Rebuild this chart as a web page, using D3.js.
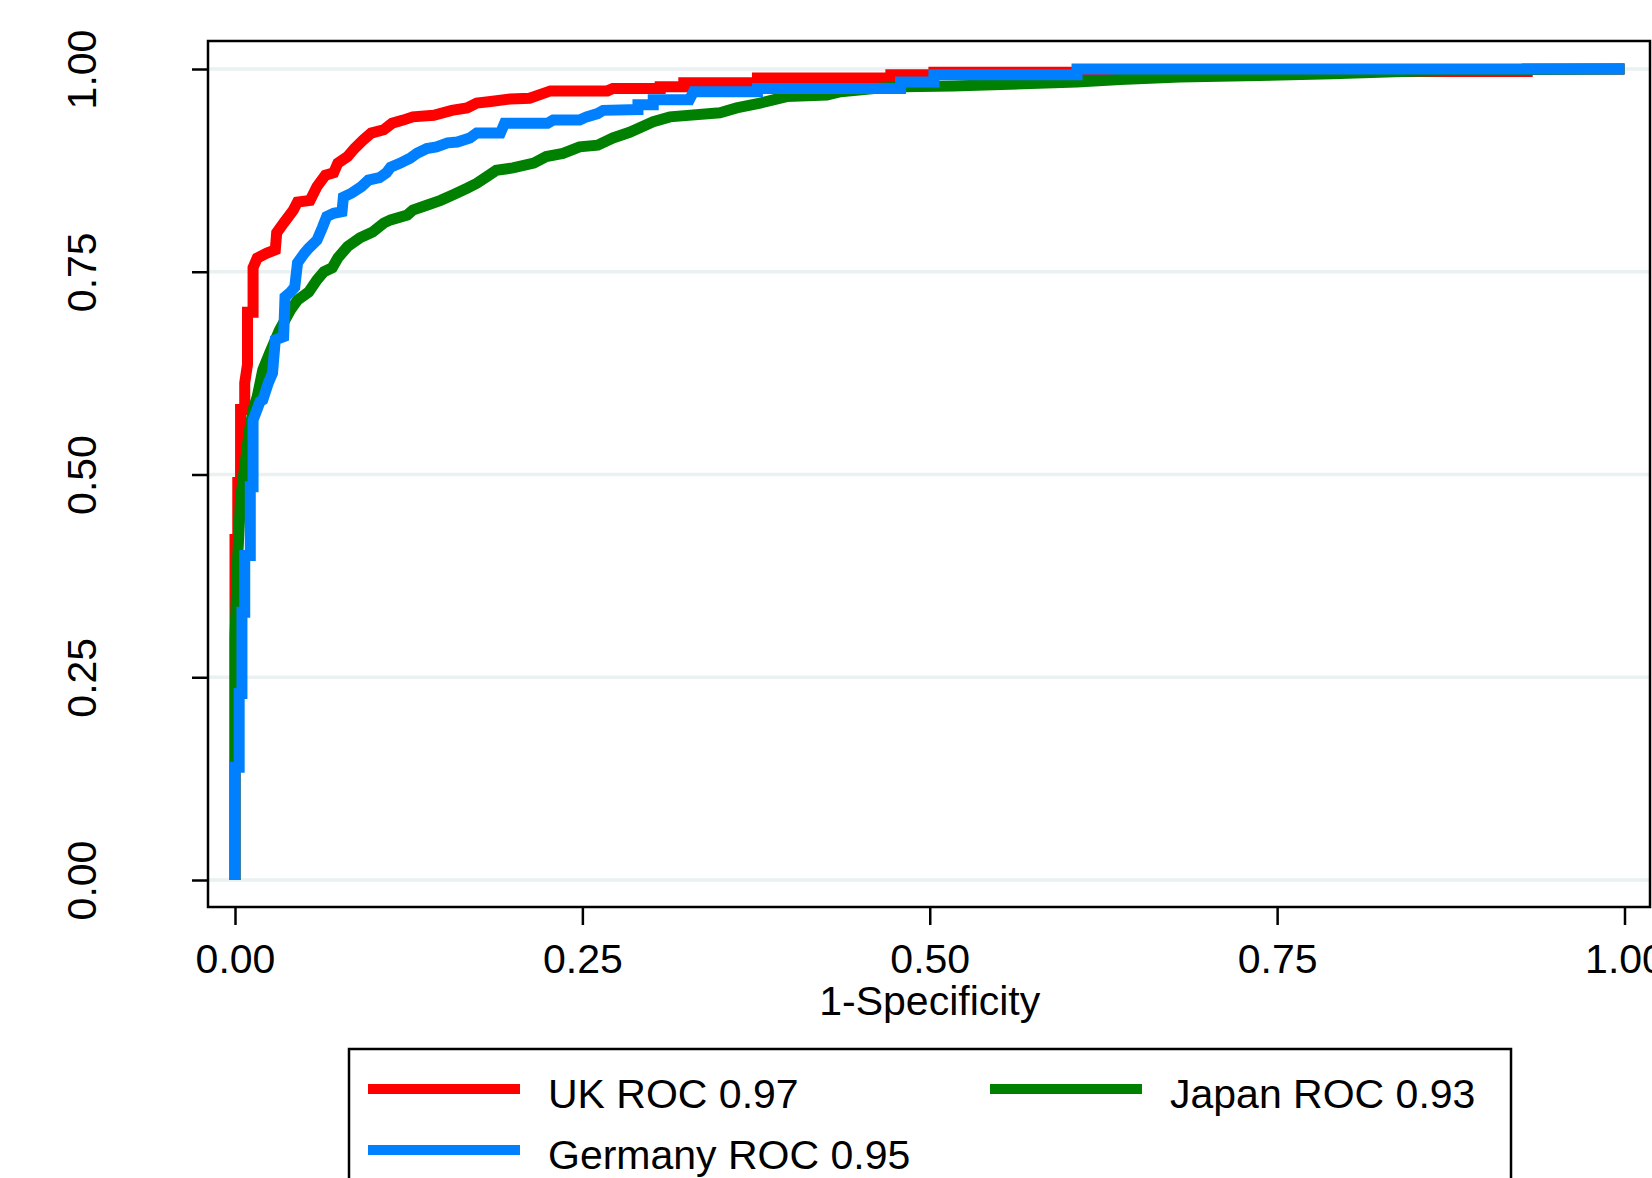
<!DOCTYPE html>
<html>
<head>
<meta charset="utf-8">
<script src="https://cdn.jsdelivr.net/npm/d3@7"></script>
<style>
  body { margin: 0; background: #fff; }
  text { font-family: "Liberation Sans", Arial, Helvetica, sans-serif; fill: #000; }
</style>
</head>
<body>
<script>
// ROC points: [1-specificity, sensitivity]
const ukRoc = [
  [0,0],[0,0.42],[0.002,0.42],[0.002,0.49],[0.004,0.49],[0.004,0.58],[0.007,0.58],[0.007,0.613],
  [0.009,0.636],[0.009,0.70],[0.013,0.70],[0.013,0.755],[0.016,0.767],[0.023,0.773],[0.029,0.777],
  [0.030,0.798],[0.035,0.810],[0.042,0.826],[0.045,0.836],[0.054,0.838],[0.059,0.855],[0.065,0.869],
  [0.071,0.872],[0.074,0.884],[0.081,0.892],[0.086,0.902],[0.092,0.912],[0.098,0.921],[0.107,0.925],
  [0.113,0.933],[0.121,0.937],[0.128,0.941],[0.143,0.943],[0.156,0.949],[0.167,0.952],[0.174,0.958],
  [0.184,0.960],[0.198,0.963],[0.212,0.964],[0.222,0.970],[0.227,0.973],[0.268,0.973],[0.272,0.976],
  [0.306,0.976],[0.306,0.978],[0.323,0.978],[0.323,0.983],[0.376,0.983],[0.376,0.989],[0.472,0.989],
  [0.472,0.993],[0.503,0.993],[0.503,0.996],[0.79,0.996],[0.79,0.997],[0.93,0.997],[0.93,1],[1,1]
];
const japanRoc = [
  [0,0],[0,0.30],[0.002,0.40],[0.004,0.47],[0.007,0.51],[0.010,0.55],[0.013,0.58],[0.016,0.596],
  [0.020,0.629],[0.025,0.650],[0.032,0.678],[0.040,0.703],[0.045,0.715],[0.053,0.725],[0.059,0.740],
  [0.064,0.750],[0.070,0.755],[0.074,0.767],[0.081,0.781],[0.090,0.792],[0.099,0.799],[0.107,0.810],
  [0.112,0.814],[0.124,0.820],[0.128,0.826],[0.138,0.832],[0.148,0.838],[0.157,0.845],[0.167,0.853],
  [0.174,0.859],[0.181,0.867],[0.188,0.875],[0.200,0.878],[0.215,0.884],[0.224,0.892],[0.236,0.896],
  [0.248,0.904],[0.261,0.906],[0.272,0.915],[0.284,0.922],[0.301,0.935],[0.313,0.941],[0.349,0.946],
  [0.361,0.952],[0.378,0.958],[0.397,0.966],[0.426,0.968],[0.436,0.972],[0.46,0.976],[0.481,0.978],
  [0.517,0.979],[0.606,0.984],[0.637,0.987],[0.68,0.990],[0.79,0.994],[0.84,0.997],[0.90,0.999],[1,1]
];
const germanyRoc = [
  [0,0],[0,0.139],[0.003,0.139],[0.003,0.23],[0.005,0.23],[0.005,0.33],[0.007,0.33],[0.007,0.40],
  [0.011,0.40],[0.011,0.485],[0.013,0.485],[0.013,0.567],[0.018,0.59],[0.020,0.592],[0.024,0.613],
  [0.027,0.625],[0.029,0.666],[0.035,0.67],[0.036,0.719],[0.040,0.725],[0.043,0.731],[0.045,0.761],
  [0.050,0.773],[0.053,0.779],[0.059,0.789],[0.063,0.805],[0.066,0.818],[0.071,0.822],[0.077,0.824],
  [0.078,0.842],[0.084,0.847],[0.091,0.855],[0.096,0.863],[0.104,0.866],[0.109,0.872],[0.112,0.879],
  [0.119,0.884],[0.126,0.890],[0.131,0.896],[0.138,0.902],[0.145,0.904],[0.153,0.909],[0.160,0.910],
  [0.169,0.915],[0.174,0.921],[0.191,0.921],[0.194,0.933],[0.225,0.933],[0.229,0.937],[0.248,0.937],
  [0.253,0.941],[0.261,0.945],[0.265,0.949],[0.29,0.950],[0.29,0.956],[0.301,0.956],[0.301,0.962],
  [0.327,0.962],[0.330,0.972],[0.376,0.972],[0.376,0.976],[0.479,0.976],[0.479,0.984],[0.503,0.984],
  [0.503,0.993],[0.606,0.993],[0.606,1],[1,1]
];

// drawn in this order (later ones on top), legend fills row by row
const seriesNames = ["UK ROC 0.97", "Japan ROC 0.93", "Germany ROC 0.95"];
const seriesData = [ukRoc, japanRoc, germanyRoc];
const seriesColors = ["#ff0000", "#008000", "#0080ff"];

const tickValues = [0, 0.25, 0.5, 0.75, 1];
const xTitle = "1-Specificity";

// layout
const W = 1652, H = 1178;
const frame = {left: 208, top: 41, right: 1650, bottom: 907};
const fontSize = 41;

const svg = d3.select("body").append("svg")
    .attr("width", W)
    .attr("height", H);

const x = d3.scaleLinear().domain([0, 1]).range([235, 1624.5]);
const y = d3.scaleLinear().domain([0, 1]).range([880, 69]);

// gridlines
svg.append("g")
  .selectAll("line")
  .data(tickValues)
  .join("line")
    .attr("x1", frame.left)
    .attr("x2", frame.right)
    .attr("y1", d => y(d))
    .attr("y2", d => y(d))
    .attr("stroke", "#e9f1f2")
    .attr("stroke-width", 3.5);

// curves
const line = d3.line()
    .x(d => x(d[0]))
    .y(d => y(d[1]));

svg.append("g")
  .selectAll("path")
  .data(seriesData)
  .join("path")
    .attr("d", line)
    .attr("fill", "none")
    .attr("stroke", (d, i) => seriesColors[i])
    .attr("stroke-width", 11)
    .attr("stroke-linejoin", "miter");

// frame
svg.append("rect")
    .attr("x", frame.left)
    .attr("y", frame.top)
    .attr("width", frame.right - frame.left)
    .attr("height", frame.bottom - frame.top)
    .attr("fill", "none")
    .attr("stroke", "#000")
    .attr("stroke-width", 2.5);

// x axis
const xAxis = svg.append("g")
    .attr("transform", `translate(0,${frame.bottom})`)
    .call(d3.axisBottom(x).tickValues(tickValues).tickFormat(d3.format(".2f"))
      .tickSize(18).tickPadding(19).tickSizeOuter(0));
xAxis.select(".domain").remove();
xAxis.selectAll("line").attr("stroke", "#000").attr("stroke-width", 2.5);
xAxis.selectAll("text").style("font-size", fontSize + "px").attr("fill", "#000");

svg.append("text")
    .attr("x", x(0.5))
    .attr("y", 1015)
    .attr("text-anchor", "middle")
    .style("font-size", fontSize + "px")
    .text(xTitle);

// y axis
const yAxis = svg.append("g")
    .attr("transform", `translate(${frame.left},0)`)
    .call(d3.axisLeft(y).tickValues(tickValues).tickFormat(d3.format(".2f"))
      .tickSize(16).tickSizeOuter(0));
yAxis.select(".domain").remove();
yAxis.selectAll("line").attr("stroke", "#000").attr("stroke-width", 2.5);
yAxis.selectAll("text")
    .attr("x", 0)
    .attr("dy", 0)
    .attr("text-anchor", "middle")
    .attr("transform", `translate(${96 - frame.left},0) rotate(-90)`)
    .attr("fill", "#000")
    .style("font-size", fontSize + "px");

// legend
const legend = svg.append("g");
legend.append("rect")
    .attr("x", 349)
    .attr("y", 1049)
    .attr("width", 1162)
    .attr("height", 200)
    .attr("fill", "#fff")
    .attr("stroke", "#000")
    .attr("stroke-width", 2.5);

const colX = [368, 990], rowY = [1089, 1150];
const items = legend.selectAll(".legend-item")
  .data(seriesNames)
  .join("g")
    .attr("class", "legend-item")
    .attr("transform", (d, i) => `translate(${colX[i % 2]},${rowY[Math.floor(i / 2)]})`);

items.append("line")
    .attr("x1", 0)
    .attr("x2", 152)
    .attr("stroke", (d, i) => seriesColors[i])
    .attr("stroke-width", 10);

items.append("text")
    .attr("x", 180)
    .attr("y", 19)
    .style("font-size", fontSize + "px")
    .text(d => d);
</script>
</body>
</html>
